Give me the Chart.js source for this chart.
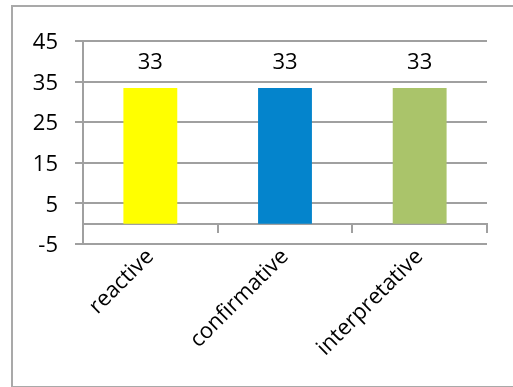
<!DOCTYPE html>
<html>
<head>
<meta charset="utf-8">
<script src="https://cdn.jsdelivr.net/npm/chart.js@4"></script>
<style>
  html, body { margin: 0; padding: 0; background: #fff; overflow: hidden; }
  #wrap { position: relative; width: 513px; height: 387px; }
  #frame { position: absolute; left: 11px; top: 5px; width: 540px; height: 379px; border: 2px solid #a9a9a9; }
  #chart { position: absolute; left: 0; top: 0; }
</style>
</head>
<body>
<div id="wrap">
  <div id="frame"></div>
  <canvas id="chart" width="513" height="387"></canvas>
</div>
<script>
const categories = ['reactive', 'confirmative', 'interpretative'];
const values = [33.4, 33.4, 33.4];
const barColors = ['#ffff00', '#0484cc', '#aac46a'];
const yMin = -5;
const yMax = 45;
const yStep = 10;

const gridColor = '#a0a0a0';
const fontFamily = '"Open Sans", "Liberation Sans", sans-serif';

// draws the value above each bar
const valueLabels = {
  id: 'valueLabels',
  afterDatasetsDraw(chart) {
    const ctx = chart.ctx;
    const meta = chart.getDatasetMeta(0);
    ctx.save();
    ctx.font = '22px ' + fontFamily;
    ctx.fillStyle = '#000';
    ctx.textAlign = 'center';
    ctx.textBaseline = 'alphabetic';
    meta.data.forEach(function (bar, i) {
      ctx.fillText(Math.round(values[i]).toString(), bar.x, bar.y - 19);
    });
    ctx.restore();
  }
};

document.addEventListener('DOMContentLoaded', function () {
  const ctx = document.getElementById('chart').getContext('2d');
  new Chart(ctx, {
    type: 'bar',
    data: {
      labels: categories,
      datasets: [{
        data: values,
        backgroundColor: barColors,
        borderWidth: 0,
        categoryPercentage: 1,
        barPercentage: 0.4,
      }],
    },
    options: {
      responsive: false,
      animation: false,
      layout: { padding: { left: 0, top: 41, right: 26, bottom: 143 } },
      plugins: {
        legend: { display: false },
        tooltip: { enabled: false },
      },
      scales: {
        x: {
          position: { y: 0 },
          grid: {
            drawOnChartArea: false,
            drawTicks: true,
            tickLength: 8,
            color: gridColor,
            lineWidth: 2,
          },
          border: { display: true, color: gridColor, width: 2 },
          ticks: {
            color: '#000',
            font: { family: fontFamily, size: 22 },
            minRotation: 45,
            maxRotation: 45,
            padding: 12,
          },
          afterFit: function (scale) { scale.height = 30; },
        },
        y: {
          min: yMin,
          max: yMax,
          grid: {
            color: gridColor,
            lineWidth: 2,
            drawTicks: true,
            tickLength: 8,
          },
          border: { display: true, color: gridColor, width: 2 },
          ticks: {
            stepSize: yStep,
            color: '#000',
            font: { family: fontFamily, size: 22 },
            padding: 17,
            labelOffset: 2,
          },
          afterFit: function (scale) { scale.width = 83; },
        },
      },
    },
    plugins: [valueLabels],
  });
});
</script>
</body>
</html>
